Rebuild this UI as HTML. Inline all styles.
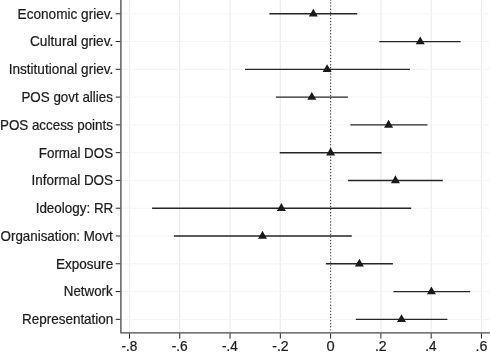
<!DOCTYPE html>
<html><head><meta charset="utf-8"><title>Coefficient plot</title>
<style>html,body{margin:0;padding:0;background:#fff}svg{display:block;will-change:transform}text{font-family:"Liberation Sans",Arial,Helvetica,sans-serif;font-size:13.9px;fill:#1c1c1c;stroke:#1c1c1c;stroke-width:0.22px}</style></head><body>
<svg width="490" height="355" viewBox="0 0 490 355">
<rect width="490" height="355" fill="#fff"/>
<g stroke="#ebecee" stroke-width="1.25" fill="none">
<line x1="129.48" y1="0" x2="129.48" y2="332.90"/>
<line x1="179.76" y1="0" x2="179.76" y2="332.90"/>
<line x1="230.04" y1="0" x2="230.04" y2="332.90"/>
<line x1="280.32" y1="0" x2="280.32" y2="332.90"/>
<line x1="380.88" y1="0" x2="380.88" y2="332.90"/>
<line x1="431.16" y1="0" x2="431.16" y2="332.90"/>
<line x1="481.44" y1="0" x2="481.44" y2="332.90"/>
</g>
<g stroke="#f3f3f5" stroke-width="0.9" fill="none">
<line x1="120.90" y1="13.80" x2="490" y2="13.80"/>
<line x1="120.90" y1="41.58" x2="490" y2="41.58"/>
<line x1="120.90" y1="69.36" x2="490" y2="69.36"/>
<line x1="120.90" y1="97.14" x2="490" y2="97.14"/>
<line x1="120.90" y1="124.92" x2="490" y2="124.92"/>
<line x1="120.90" y1="152.70" x2="490" y2="152.70"/>
<line x1="120.90" y1="180.48" x2="490" y2="180.48"/>
<line x1="120.90" y1="208.26" x2="490" y2="208.26"/>
<line x1="120.90" y1="236.04" x2="490" y2="236.04"/>
<line x1="120.90" y1="263.82" x2="490" y2="263.82"/>
<line x1="120.90" y1="291.60" x2="490" y2="291.60"/>
<line x1="120.90" y1="319.38" x2="490" y2="319.38"/>
</g>
<line x1="330.60" y1="-0.08" x2="330.60" y2="330.6" stroke="#484848" stroke-width="1.45" stroke-linecap="round" stroke-dasharray="0 3.0836"/>
<g stroke="#262626" stroke-width="1.4">
<line x1="269.40" y1="13.80" x2="357.20" y2="13.80"/>
<line x1="379.30" y1="41.58" x2="460.60" y2="41.58"/>
<line x1="245.00" y1="69.36" x2="409.90" y2="69.36"/>
<line x1="275.90" y1="97.14" x2="347.90" y2="97.14"/>
<line x1="350.40" y1="124.92" x2="427.50" y2="124.92"/>
<line x1="279.70" y1="152.70" x2="381.60" y2="152.70"/>
<line x1="347.90" y1="180.48" x2="442.80" y2="180.48"/>
<line x1="152.10" y1="208.26" x2="411.20" y2="208.26"/>
<line x1="173.90" y1="236.04" x2="351.70" y2="236.04"/>
<line x1="325.90" y1="263.82" x2="392.90" y2="263.82"/>
<line x1="393.40" y1="291.60" x2="470.20" y2="291.60"/>
<line x1="355.80" y1="319.38" x2="447.40" y2="319.38"/>
</g>
<g fill="#1a1a1a">
<polygon points="313.30,8.63 317.80,16.53 308.80,16.53"/>
<polygon points="420.20,36.41 424.70,44.31 415.70,44.31"/>
<polygon points="327.10,64.19 331.60,72.09 322.60,72.09"/>
<polygon points="311.80,91.97 316.30,99.87 307.30,99.87"/>
<polygon points="388.60,119.75 393.10,127.65 384.10,127.65"/>
<polygon points="330.60,147.53 335.10,155.43 326.10,155.43"/>
<polygon points="395.40,175.31 399.90,183.21 390.90,183.21"/>
<polygon points="281.40,203.09 285.90,210.99 276.90,210.99"/>
<polygon points="262.50,230.87 267.00,238.77 258.00,238.77"/>
<polygon points="359.40,258.65 363.90,266.55 354.90,266.55"/>
<polygon points="431.40,286.43 435.90,294.33 426.90,294.33"/>
<polygon points="401.50,314.21 406.00,322.11 397.00,322.11"/>
</g>
<polyline points="120.90,0 120.90,332.90 490,332.90" fill="none" stroke="#484848" stroke-width="1.3" stroke-linejoin="round"/>
<g stroke="#222" fill="none" stroke-width="1">
<line x1="129.48" y1="333.40" x2="129.48" y2="338.60"/>
<line x1="179.76" y1="333.40" x2="179.76" y2="338.60"/>
<line x1="230.04" y1="333.40" x2="230.04" y2="338.60"/>
<line x1="280.32" y1="333.40" x2="280.32" y2="338.60"/>
<line x1="330.60" y1="333.40" x2="330.60" y2="338.60"/>
<line x1="380.88" y1="333.40" x2="380.88" y2="338.60"/>
<line x1="431.16" y1="333.40" x2="431.16" y2="338.60"/>
<line x1="481.44" y1="333.40" x2="481.44" y2="338.60"/>
<line x1="115.70" y1="13.75" x2="120.30" y2="13.75"/>
<line x1="115.70" y1="41.53" x2="120.30" y2="41.53"/>
<line x1="115.70" y1="69.31" x2="120.30" y2="69.31"/>
<line x1="115.70" y1="97.09" x2="120.30" y2="97.09"/>
<line x1="115.70" y1="124.87" x2="120.30" y2="124.87"/>
<line x1="115.70" y1="152.65" x2="120.30" y2="152.65"/>
<line x1="115.70" y1="180.43" x2="120.30" y2="180.43"/>
<line x1="115.70" y1="208.21" x2="120.30" y2="208.21"/>
<line x1="115.70" y1="235.99" x2="120.30" y2="235.99"/>
<line x1="115.70" y1="263.77" x2="120.30" y2="263.77"/>
<line x1="115.70" y1="291.55" x2="120.30" y2="291.55"/>
<line x1="115.70" y1="319.33" x2="120.30" y2="319.33"/>
</g>
<g text-anchor="end">
<text transform="translate(113.33,18.65) scale(0.9783,1)">Economic griev.</text>
<text transform="translate(113.33,46.43) scale(0.9842,1)">Cultural griev.</text>
<text transform="translate(113.32,74.21) scale(0.9780,1)">Institutional griev.</text>
<text transform="translate(112.94,101.99) scale(0.9639,1)">POS govt allies</text>
<text transform="translate(112.92,129.77) scale(0.9632,1)">POS access points</text>
<text transform="translate(113.07,157.55) scale(0.9633,1)">Formal DOS</text>
<text transform="translate(113.06,185.33) scale(0.9691,1)">Informal DOS</text>
<text transform="translate(113.30,213.11) scale(0.9678,1)">Ideology: RR</text>
<text transform="translate(112.67,240.89) scale(0.9611,1)">Organisation: Movt</text>
<text transform="translate(113.18,268.67) scale(0.9754,1)">Exposure</text>
<text transform="translate(112.67,296.45) scale(0.9600,1)">Network</text>
<text transform="translate(113.31,324.23) scale(0.9694,1)">Representation</text>
</g>
<g text-anchor="middle">
<text transform="translate(129.29,350.90) scale(0.9752,1)">-.8</text>
<text transform="translate(179.70,350.90) scale(0.9917,1)">-.6</text>
<text transform="translate(229.86,350.90) scale(0.9753,1)">-.4</text>
<text transform="translate(280.44,350.90) scale(1.0167,1)">-.2</text>
<text transform="translate(330.55,350.90) scale(1.0568,1)">0</text>
<text transform="translate(380.82,350.90) scale(1.0130,1)">.2</text>
<text transform="translate(430.92,350.90) scale(0.9748,1)">.4</text>
<text transform="translate(481.44,350.90) scale(1.0259,1)">.6</text>
</g>
</svg></body></html>
